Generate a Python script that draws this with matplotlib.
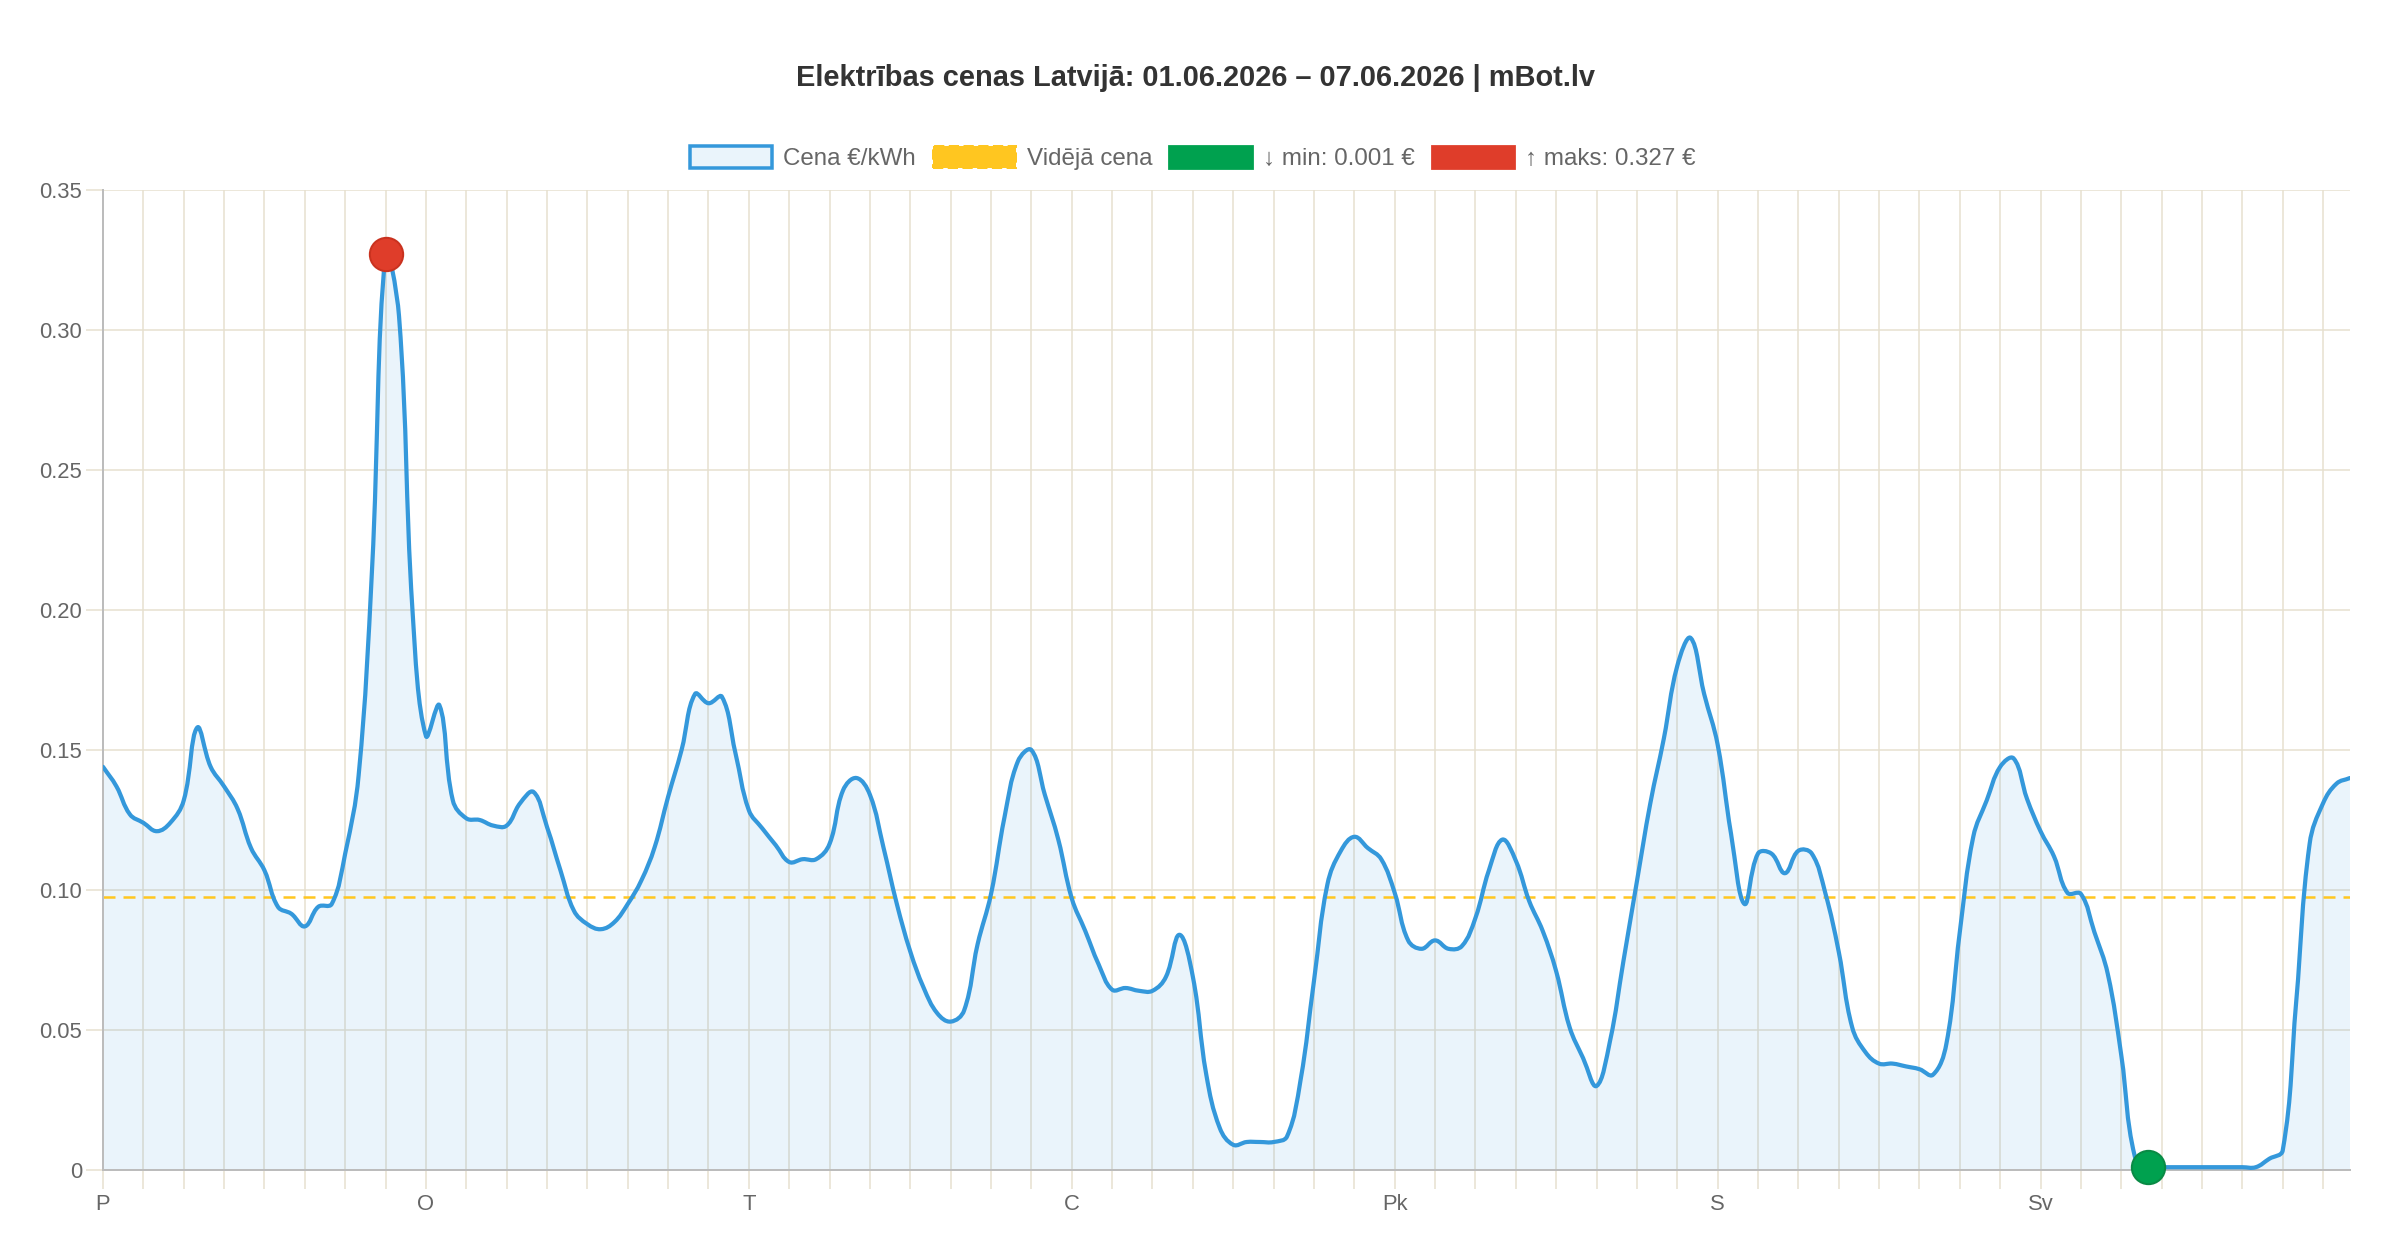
import matplotlib
matplotlib.use('Agg')
import matplotlib.pyplot as plt
from matplotlib.path import Path
from matplotlib.patches import PathPatch, Patch
import numpy as np

plt.rcParams['font.family'] = ['Liberation Sans', 'DejaVu Sans']
plt.rcParams['lines.scale_dashes'] = False

DPI = 200

# hourly prices, EUR/kWh, 01.06.2026 00:00 .. 07.06.2026 23:00
day_labels = ['P', 'O', 'T', 'C', 'Pk', 'S', 'Sv']
prices = [
    0.144, 0.137, 0.127, 0.124, 0.121, 0.124, 0.132, 0.158,
    0.144, 0.137, 0.129, 0.115, 0.107, 0.094, 0.0915, 0.087,
    0.094, 0.095, 0.113, 0.141, 0.215, 0.327, 0.305, 0.200,
    0.155, 0.166, 0.132, 0.1256, 0.125, 0.123, 0.123, 0.131,
    0.135, 0.1225, 0.107, 0.0926, 0.0878, 0.086, 0.0885, 0.095,
    0.1033, 0.1153, 0.1333, 0.150, 0.170, 0.1667, 0.169, 0.149,
    0.1285, 0.122, 0.116, 0.110, 0.111, 0.111, 0.1165, 0.1356,
    0.140, 0.134, 0.1153, 0.095, 0.078, 0.065, 0.056, 0.053,
    0.057, 0.0806, 0.0986, 0.126, 0.146, 0.150, 0.134, 0.118,
    0.097, 0.0854, 0.0734, 0.0644, 0.065, 0.064, 0.064, 0.069,
    0.084, 0.069, 0.034, 0.015, 0.009, 0.010, 0.010, 0.010,
    0.012, 0.032, 0.0675, 0.102, 0.114, 0.119, 0.115, 0.111,
    0.099, 0.082, 0.079, 0.082, 0.079, 0.080, 0.090, 0.107,
    0.118, 0.1105, 0.096, 0.0854, 0.071, 0.051, 0.040, 0.030,
    0.046, 0.0746, 0.103, 0.131, 0.154, 0.180, 0.190, 0.170,
    0.152, 0.120, 0.095, 0.113, 0.113, 0.106, 0.114, 0.113,
    0.099, 0.078, 0.051, 0.042, 0.038, 0.038, 0.037, 0.036,
    0.034, 0.045, 0.085, 0.119, 0.132, 0.144, 0.147, 0.1325,
    0.121, 0.112, 0.099, 0.0986, 0.085, 0.070, 0.041, 0.005,
    0.001, 0.001, 0.001, 0.001, 0.001, 0.001, 0.001, 0.001,
    0.001, 0.004, 0.007, 0.060, 0.1165, 0.131, 0.138, 0.140,
]
y_ticks = [0, 0.05, 0.10, 0.15, 0.20, 0.25, 0.30, 0.35]
y_tick_labels = ['0', '0.05', '0.10', '0.15', '0.20', '0.25', '0.30', '0.35']

blue = '#3498db'
fill_color = (52 / 255, 152 / 255, 219 / 255, 0.1)
yellow = '#ffc620'
green = '#00a14f'
red = '#df3d2a'
grid_color = '#e6e0cf'
axis_color = '#bcbcbc'
text_color = '#666666'


def px(p):
    # pixels -> points
    return p * 72 / DPI


def chartjs_curve(xs, ys, tension, sx, sy):
    # bezier control points the way Chart.js computes them (in pixel space)
    xp = np.asarray(xs, float) * sx
    yp = np.asarray(ys, float) * sy
    n = len(xp)
    cp_in = np.zeros((n, 2))
    cp_out = np.zeros((n, 2))
    for i in range(n):
        a = max(i - 1, 0)
        b = min(i + 1, n - 1)
        d01 = np.hypot(xp[i] - xp[a], yp[i] - yp[a])
        d12 = np.hypot(xp[b] - xp[i], yp[b] - yp[i])
        tot = d01 + d12
        s01 = d01 / tot if tot else 0
        s12 = d12 / tot if tot else 0
        dx = xp[b] - xp[a]
        dy = yp[b] - yp[a]
        cp_in[i] = (xp[i] - tension * s01 * dx, yp[i] - tension * s01 * dy)
        cp_out[i] = (xp[i] + tension * s12 * dx, yp[i] + tension * s12 * dy)
    verts = [(xp[0], yp[0])]
    codes = [Path.MOVETO]
    for i in range(n - 1):
        verts += [tuple(cp_out[i]), tuple(cp_in[i + 1]), (xp[i + 1], yp[i + 1])]
        codes += [Path.CURVE4] * 3
    verts = np.array(verts)
    verts[:, 0] /= sx
    verts[:, 1] /= sy
    return verts, codes


hours = np.arange(len(prices))
avg = np.mean(prices)
i_max = int(np.argmax(prices))
i_min = int(np.argmin(prices))

fig = plt.figure(figsize=(12, 6.3), dpi=DPI)
ax = fig.add_axes([103 / 2400, 1 - 1170 / 1260, 2247 / 2400, 980 / 1260])
ax.set_xlim(0, hours[-1])
ax.set_ylim(0, 0.35)

verts, codes = chartjs_curve(hours, prices, 0.4, 2247 / hours[-1], 980 / 0.35)
verts[:, 1] = np.clip(verts[:, 1], 0, 0.35)

fill_verts = np.vstack([verts, [[hours[-1], 0], [0, 0], [0, 0]]])
fill_codes = codes + [Path.LINETO, Path.LINETO, Path.CLOSEPOLY]
ax.add_patch(PathPatch(Path(fill_verts, fill_codes), facecolor=fill_color,
                       edgecolor='none', zorder=2))
ax.add_patch(PathPatch(Path(verts, codes), facecolor='none', edgecolor=blue,
                       lw=px(4.2), zorder=3, joinstyle='round', capstyle='round'))

ax.axhline(avg, color=yellow, lw=px(2.5), dashes=(px(12), px(8)), zorder=2.5)

ax.plot(hours[i_max], prices[i_max], 'o', ms=12, mfc=red, mec='#c9321f',
        mew=px(2), zorder=5, clip_on=False)
ax.plot(hours[i_min], prices[i_min], 'o', ms=12, mfc=green, mec='#0a8a45',
        mew=px(2), zorder=5, clip_on=False)

x_ticks = np.arange(0, len(prices), 3)
ax.set_xticks(x_ticks)
ax.set_xticklabels([day_labels[h // 24] if h % 24 == 0 else '' for h in x_ticks])
ax.set_yticks(y_ticks)
ax.set_yticklabels(y_tick_labels)
ax.tick_params(axis='x', length=px(19), width=px(1.5), color=grid_color,
               pad=px(5), labelsize=px(22), labelcolor=text_color)
ax.tick_params(axis='y', length=px(17), width=px(1.5), color=grid_color,
               pad=px(4), labelsize=px(22), labelcolor=text_color)
ax.grid(True, color=grid_color, lw=px(1.5))
ax.set_axisbelow(True)

for side in ['top', 'right']:
    ax.spines[side].set_visible(False)
for side in ['left', 'bottom']:
    ax.spines[side].set_color(axis_color)
    ax.spines[side].set_linewidth(px(2))

fig.text(0.498, 1 - 78 / 1260,
         'Elektrības cenas Latvijā: 01.06.2026 – 07.06.2026 | mBot.lv',
         ha='center', va='center', fontsize=px(29), fontweight='bold', color='#333333')

handles = [
    Patch(facecolor=fill_color, edgecolor=blue, linewidth=px(3.5)),
    Patch(facecolor=yellow, edgecolor=yellow, linestyle='--', linewidth=px(2)),
    Patch(facecolor=green, edgecolor=green),
    Patch(facecolor=red, edgecolor=red),
]
labels = [
    'Cena €/kWh',
    'Vidējā cena',
    f'↓ min: {prices[i_min]:.3f} €',
    f'↑ maks: {prices[i_max]:.3f} €',
]
fig.legend(handles, labels, loc='center', bbox_to_anchor=(0.497, 1 - 158 / 1260),
           ncol=4, frameon=False, fontsize=px(24.2), handlelength=3.42,
           handleheight=1.07, handletextpad=0.45, columnspacing=0.7,
           labelcolor=text_color)

fig.savefig('out.png', dpi=DPI)
